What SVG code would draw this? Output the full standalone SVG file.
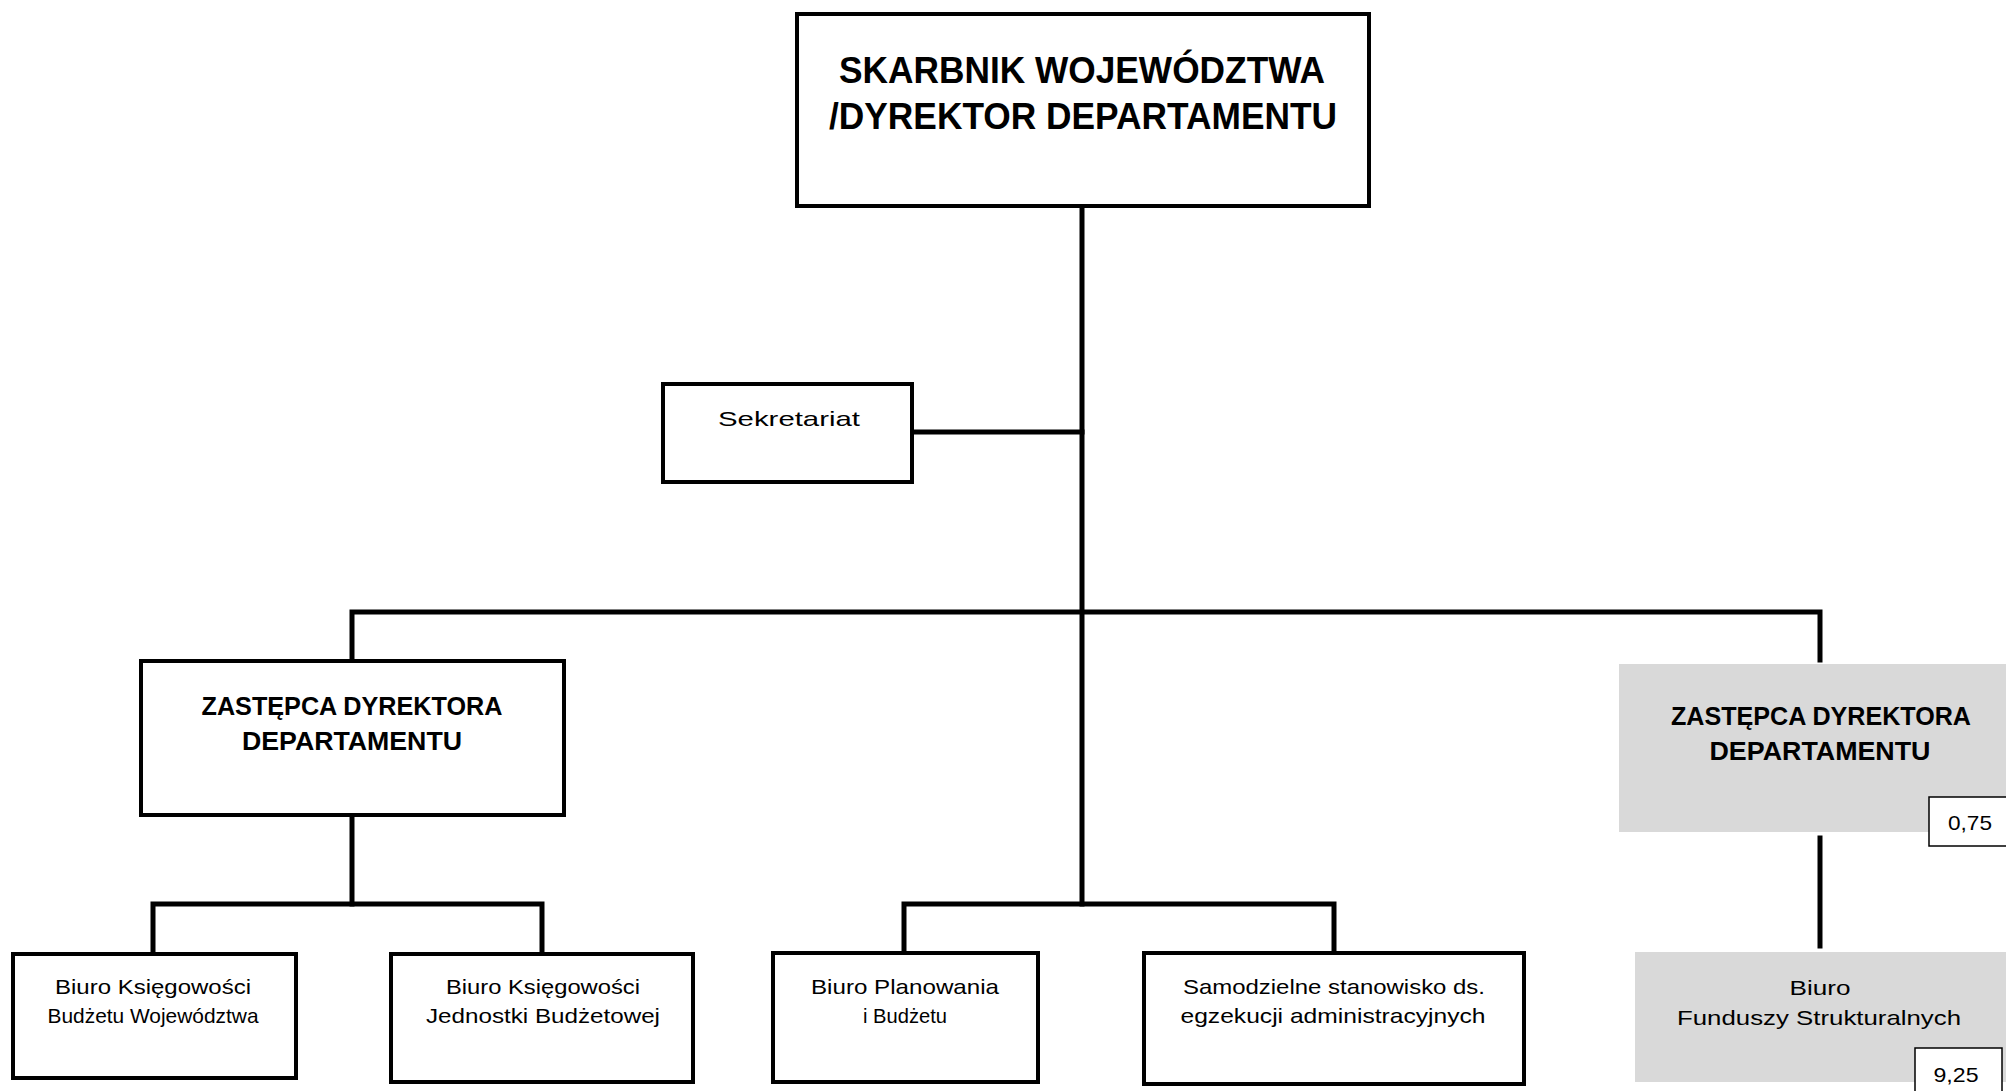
<svg xmlns="http://www.w3.org/2000/svg" width="2006" height="1091" viewBox="0 0 2006 1091">
<style>
.box{fill:#fff;stroke:#000;stroke-width:4}
.gray{fill:#d9d9d9;stroke:none}
.tag{fill:#fff;stroke:#000;stroke-width:1.5}
.ln{stroke:#000;stroke-width:5;fill:none;stroke-linecap:square}
text{font-family:"Liberation Sans",Arial,sans-serif;fill:#000;text-anchor:middle}
.big{font-size:36px;font-weight:bold}
.bold{font-size:25px;font-weight:bold}
.sm{font-size:21px}
</style>
<rect width="2006" height="1091" fill="#fff"/>
<g id="connectors">
<line class="ln" x1="1082" y1="206" x2="1082" y2="904"/>
<line class="ln" x1="912" y1="432" x2="1082" y2="432"/>
<polyline class="ln" points="352,661 352,612 1820,612 1820,660"/>
<line class="ln" x1="352" y1="815" x2="352" y2="904"/>
<polyline class="ln" points="153,954 153,904 542,904 542,954"/>
<polyline class="ln" points="904,953 904,904 1334,904 1334,953"/>
<line class="ln" x1="1820" y1="838" x2="1820" y2="946"/>
</g>
<g id="skarbnik">
<rect class="box" x="797" y="14" width="572" height="192"/>
<text class="big" x="1082" y="83" textLength="486" lengthAdjust="spacingAndGlyphs">SKARBNIK WOJEWÓDZTWA</text>
<text class="big" x="1083" y="129" textLength="508" lengthAdjust="spacingAndGlyphs">/DYREKTOR DEPARTAMENTU</text>
</g>
<g id="sekretariat">
<rect class="box" x="663" y="384" width="249" height="98"/>
<text class="sm" x="789" y="426" textLength="142" lengthAdjust="spacingAndGlyphs">Sekretariat</text>
</g>
<g id="zastepca-left">
<rect class="box" x="141" y="661" width="423" height="154"/>
<text class="bold" x="352" y="715" textLength="301" lengthAdjust="spacingAndGlyphs">ZASTĘPCA DYREKTORA</text>
<text class="bold" x="352" y="750" textLength="220" lengthAdjust="spacingAndGlyphs">DEPARTAMENTU</text>
</g>
<g id="zastepca-right">
<rect class="gray" x="1619" y="664" width="387" height="168"/>
<text class="bold" x="1821" y="725" textLength="300" lengthAdjust="spacingAndGlyphs">ZASTĘPCA DYREKTORA</text>
<text class="bold" x="1820" y="760" textLength="221" lengthAdjust="spacingAndGlyphs">DEPARTAMENTU</text>
<rect class="tag" x="1929" y="797" width="80" height="49"/>
<text class="sm" x="1970" y="830" textLength="44" lengthAdjust="spacingAndGlyphs">0,75</text>
</g>
<g id="biuro-ksiegowosci-budzetu">
<rect class="box" x="13" y="954" width="283" height="124"/>
<text class="sm" x="153" y="994" textLength="196" lengthAdjust="spacingAndGlyphs">Biuro Księgowości</text>
<text class="sm" x="153" y="1023" textLength="211" lengthAdjust="spacingAndGlyphs">Budżetu Województwa</text>
</g>
<g id="biuro-ksiegowosci-jednostki">
<rect class="box" x="391" y="954" width="302" height="128"/>
<text class="sm" x="543" y="994" textLength="194" lengthAdjust="spacingAndGlyphs">Biuro Księgowości</text>
<text class="sm" x="543" y="1023" textLength="234" lengthAdjust="spacingAndGlyphs">Jednostki Budżetowej</text>
</g>
<g id="biuro-planowania">
<rect class="box" x="773" y="953" width="265" height="129"/>
<text class="sm" x="905" y="994" textLength="188" lengthAdjust="spacingAndGlyphs">Biuro Planowania</text>
<text class="sm" x="905" y="1023" textLength="84" lengthAdjust="spacingAndGlyphs">i Budżetu</text>
</g>
<g id="samodzielne-stanowisko">
<rect class="box" x="1144" y="953" width="380" height="131"/>
<text class="sm" x="1334" y="994" textLength="302" lengthAdjust="spacingAndGlyphs">Samodzielne stanowisko ds.</text>
<text class="sm" x="1333" y="1023" textLength="305" lengthAdjust="spacingAndGlyphs">egzekucji administracyjnych</text>
</g>
<g id="biuro-funduszy">
<rect class="gray" x="1635" y="952" width="371" height="130"/>
<text class="sm" x="1820" y="995" textLength="61" lengthAdjust="spacingAndGlyphs">Biuro</text>
<text class="sm" x="1819" y="1025" textLength="284" lengthAdjust="spacingAndGlyphs">Funduszy Strukturalnych</text>
<rect class="tag" x="1915" y="1048" width="87" height="48"/>
<text class="sm" x="1956" y="1082" textLength="45" lengthAdjust="spacingAndGlyphs">9,25</text>
</g>
</svg>
